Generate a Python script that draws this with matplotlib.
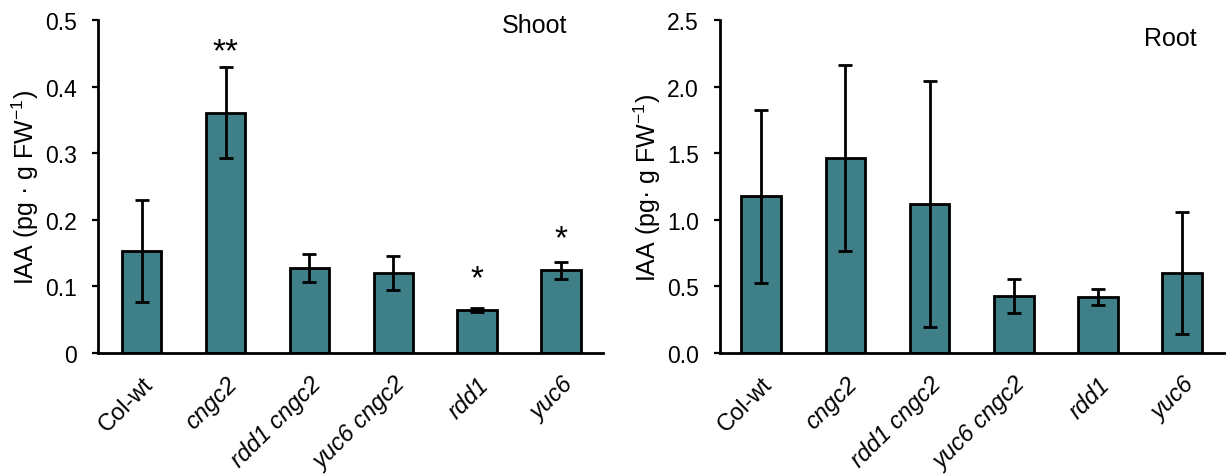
import matplotlib
matplotlib.use("Agg")
import matplotlib.pyplot as plt
from matplotlib.transforms import ScaledTranslation

plt.rcParams['font.family'] = ['Liberation Sans', 'DejaVu Sans']
plt.rcParams['mathtext.fontset'] = 'custom'
plt.rcParams['mathtext.rm'] = 'Liberation Sans'
plt.rcParams['mathtext.it'] = 'Liberation Sans:italic'

categories = ["Col-wt", "cngc2", "rdd1 cngc2", "yuc6 cngc2", "rdd1", "yuc6"]
italic_flags = [False, True, True, True, True, True]

shoot_mean = [0.153, 0.361, 0.127, 0.120, 0.065, 0.124]
shoot_err = [0.077, 0.068, 0.021, 0.025, 0.003, 0.013]
shoot_stars = ["", "**", "", "", "*", "*"]
shoot_star_y = [None, 0.464, None, None, 0.124, 0.184]

root_mean = [1.175, 1.465, 1.120, 0.427, 0.420, 0.603]
root_err = [0.650, 0.700, 0.925, 0.125, 0.058, 0.458]

shoot_ticks = [0, 0.1, 0.2, 0.3, 0.4, 0.5]
shoot_ticklabels = ["0", "0.1", "0.2", "0.3", "0.4", "0.5"]
root_ticks = [0.0, 0.5, 1.0, 1.5, 2.0, 2.5]
root_ticklabels = ["0.0", "0.5", "1.0", "1.5", "2.0", "2.5"]

bar_color = "#3F7F87"

fig = plt.figure(figsize=(12.26, 4.77), dpi=100)
ax1 = fig.add_axes([98/1226, 1-354/477, (603-98)/1226, (354-21)/477])
ax2 = fig.add_axes([720/1226, 1-354/477, (1226-720)/1226, (354-21)/477])

def style(ax, means, errs, ticks, ticklabels, ylim, xlim, ylabel, title, title_xy):
    x = list(range(len(categories)))
    ax.bar(x, means, width=0.47, color=bar_color, edgecolor='black', linewidth=2.0, zorder=2)
    ax.errorbar(x, means, yerr=errs, fmt='none', ecolor='black', elinewidth=2.0,
                capsize=5.2, capthick=2.0, zorder=3)
    ax.set_xlim(*xlim)
    ax.set_ylim(*ylim)
    ax.set_yticks(ticks)
    ax.set_yticklabels(ticklabels, fontsize=16.5)
    ax.set_xticks(x)
    ax.set_xticklabels(categories, rotation=45, ha='right', va='top',
                       rotation_mode='anchor', fontsize=17)
    off = ScaledTranslation(-8/100, 0, fig.dpi_scale_trans)
    for lab, it in zip(ax.get_xticklabels(), italic_flags):
        lab.set_style('italic' if it else 'normal')
        lab.set_transform(lab.get_transform() + off)
    ax.tick_params(axis='x', length=0, pad=14)
    ax.tick_params(axis='y', length=4.3, width=1.6, direction='out', pad=11)
    for s in ['top', 'right']:
        ax.spines[s].set_visible(False)
    for s in ['left', 'bottom']:
        ax.spines[s].set_linewidth(2.0)
    ax.set_ylabel(ylabel, fontsize=18, labelpad=3)
    ax.text(title_xy[0], title_xy[1], title, transform=ax.transAxes,
            ha='center', va='center', fontsize=18)

style(ax1, shoot_mean, shoot_err, shoot_ticks, shoot_ticklabels, (0, 0.5), (-0.52, 5.5),
      "IAA (pg · g FW$^{\\mathrm{-1}}$)", "Shoot", (0.865, 0.985))
style(ax2, root_mean, root_err, root_ticks, root_ticklabels, (0, 2.5), (-0.49, 5.52),
      "IAA (pg· g FW$^{\\mathrm{-1}}$)", "Root", (0.889, 0.945))

star_fs = 24
for i, (s, yc) in enumerate(zip(shoot_stars, shoot_star_y)):
    if s:
        ax1.annotate(s, xy=(i, yc), xytext=(0, -0.5*star_fs), textcoords='offset points',
                     ha='center', va='baseline', fontsize=star_fs)

fig.savefig("out.png", dpi=100)
